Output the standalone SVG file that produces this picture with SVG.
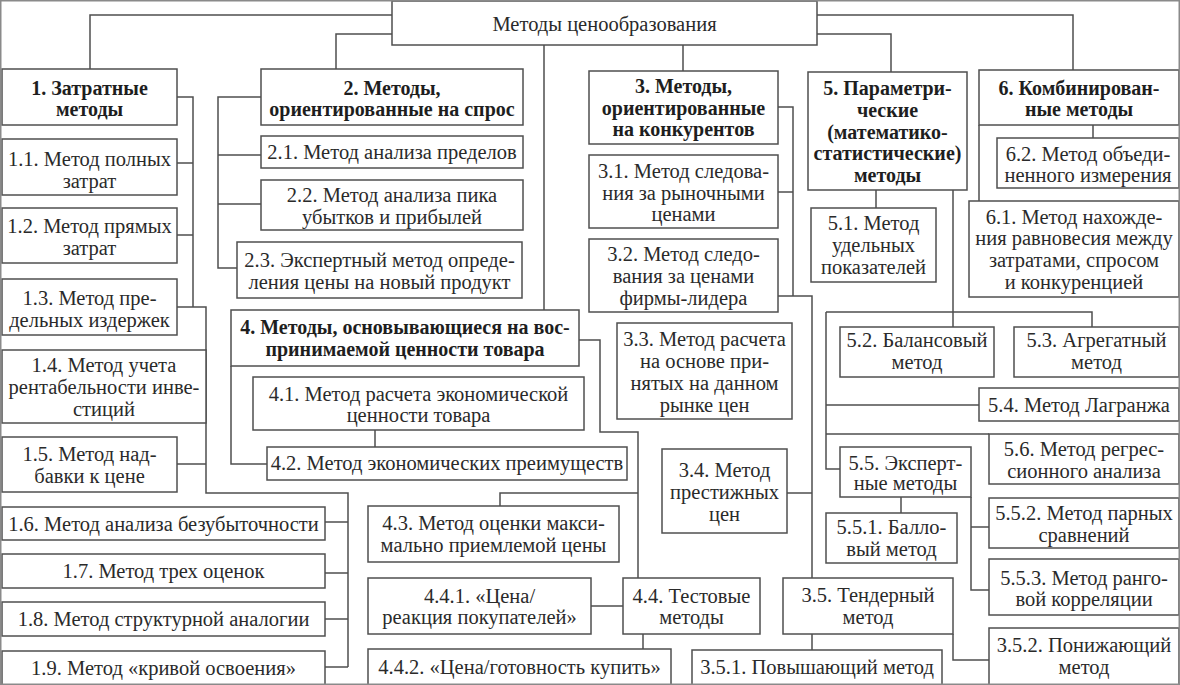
<svg xmlns="http://www.w3.org/2000/svg" width="1180" height="685" viewBox="0 0 1180 685">
<style>
.box{fill:#fff;stroke:#4f4f4f;stroke-width:1.5}
.c{fill:none;stroke:#4f4f4f;stroke-width:1.5}
.t{font-family:'Liberation Serif','Times New Roman',serif;font-size:20.5px;fill:#2a2a2a;text-anchor:middle}
.b{font-weight:bold;font-size:20px;fill:#1e1e1e}
.frame{fill:none;stroke:#8a8a8a;stroke-width:1.5}
</style>
<rect width="1180" height="685" fill="#fff"/>
<g id="connectors">
<path class="c" d="M392,15H90V69M392,34H336V69M544,45V310M683,45V71M817,15H1073V70M817,34H891V72"/>
<path class="c" d="M177,97H193V307M177,163H193M177,235H193M177,307H206V493H348V667M325,522H348M325,573H348M325,619H348M325,667H348M177,464H206"/>
<path class="c" d="M261,97H218V268H237M218,155H261M218,204H261"/>
<path class="c" d="M231,366V464H267M375,430V447M579,340H600V432H638V578M638,493H500V506M591,606H623M643,634V649"/>
<path class="c" d="M778,107H793V296M778,192H793M778,296H812V650M787,493H812M953,634V660H989"/>
<path class="c" d="M876,190V208M953,190V327M826,312H1092V327M826,312V469H840M826,405H979M826,434H989M901,497V513M971,497V590H989M971,527H989"/>
<path class="c" d="M1093,125V138M979,125V201"/>
</g>
<g id="n0"><rect class="box" x="392" y="1" width="425" height="44"/><text class="t" x="604.5" y="31">Методы ценообразования</text></g>
<g id="n1"><rect class="box" x="2" y="69" width="175" height="56"/><text class="t b"><tspan x="89.5" y="94.5">1. Затратные</tspan><tspan x="89.5" y="115.5">методы</tspan></text></g>
<g id="n1_1"><rect class="box" x="2" y="139" width="175" height="56"/><text class="t"><tspan x="89.5" y="166">1.1. Метод полных</tspan><tspan x="89.5" y="188">затрат</tspan></text></g>
<g id="n1_2"><rect class="box" x="2" y="208" width="175" height="55"/><text class="t"><tspan x="89.5" y="233">1.2. Метод прямых</tspan><tspan x="89.5" y="255">затрат</tspan></text></g>
<g id="n1_3"><rect class="box" x="2" y="279" width="175" height="56"/><text class="t"><tspan x="89.5" y="305">1.3. Метод пре-</tspan><tspan x="89.5" y="327">дельных издержек</tspan></text></g>
<g id="n1_4"><rect class="box" x="2" y="350" width="204" height="73"/><text class="t"><tspan x="104" y="372">1.4. Метод учета</tspan><tspan x="104" y="394">рентабельности инве-</tspan><tspan x="104" y="416">стиций</tspan></text></g>
<g id="n1_5"><rect class="box" x="2" y="437" width="175" height="55"/><text class="t"><tspan x="89.5" y="461">1.5. Метод над-</tspan><tspan x="89.5" y="483">бавки к цене</tspan></text></g>
<g id="n1_6"><rect class="box" x="2" y="507" width="323" height="33"/><text class="t" x="163.5" y="531">1.6. Метод анализа безубыточности</text></g>
<g id="n1_7"><rect class="box" x="2" y="554" width="323" height="34"/><text class="t" x="163.5" y="578">1.7. Метод трех оценок</text></g>
<g id="n1_8"><rect class="box" x="2" y="602" width="323" height="34"/><text class="t" x="163.5" y="626">1.8. Метод структурной аналогии</text></g>
<g id="n1_9"><rect class="box" x="2" y="651" width="323" height="34"/><text class="t" x="163.5" y="675">1.9. Метод «кривой освоения»</text></g>
<g id="n2"><rect class="box" x="261" y="69" width="262" height="56"/><text class="t b"><tspan x="392" y="94.5">2. Методы,</tspan><tspan x="392" y="115.5">ориентированные на спрос</tspan></text></g>
<g id="n2_1"><rect class="box" x="261" y="136" width="262" height="32"/><text class="t" x="392" y="159">2.1. Метод анализа пределов</text></g>
<g id="n2_2"><rect class="box" x="261" y="180" width="262" height="50"/><text class="t"><tspan x="392" y="202">2.2. Метод анализа пика</tspan><tspan x="392" y="224">убытков и прибылей</tspan></text></g>
<g id="n2_3"><rect class="box" x="237" y="242" width="285" height="56"/><text class="t"><tspan x="379.5" y="266.5">2.3. Экспертный метод опреде-</tspan><tspan x="379.5" y="288.5">ления цены на новый продукт</tspan></text></g>
<g id="n3"><rect class="box" x="589" y="71" width="189" height="73"/><text class="t b"><tspan x="683.5" y="93">3. Методы,</tspan><tspan x="683.5" y="114.5">ориентированные</tspan><tspan x="683.5" y="136">на конкурентов</tspan></text></g>
<g id="n3_1"><rect class="box" x="589" y="155" width="189" height="73"/><text class="t"><tspan x="683.5" y="178">3.1. Метод следова-</tspan><tspan x="683.5" y="199.5">ния за рыночными</tspan><tspan x="683.5" y="221">ценами</tspan></text></g>
<g id="n3_2"><rect class="box" x="589" y="239" width="189" height="73"/><text class="t"><tspan x="683.5" y="261">3.2. Метод следо-</tspan><tspan x="683.5" y="283">вания за ценами</tspan><tspan x="683.5" y="304.5">фирмы-лидера</tspan></text></g>
<g id="n3_3"><rect class="box" x="617" y="323" width="175" height="96"/><text class="t"><tspan x="704.5" y="346">3.3. Метод расчета</tspan><tspan x="704.5" y="368">на основе при-</tspan><tspan x="704.5" y="390">нятых на данном</tspan><tspan x="704.5" y="412">рынке цен</tspan></text></g>
<g id="n3_4"><rect class="box" x="662" y="449" width="125" height="84"/><text class="t"><tspan x="724.5" y="477">3.4. Метод</tspan><tspan x="724.5" y="499">престижных</tspan><tspan x="724.5" y="521">цен</tspan></text></g>
<g id="n3_5"><rect class="box" x="783" y="578" width="170" height="56"/><text class="t"><tspan x="868" y="602">3.5. Тендерный</tspan><tspan x="868" y="623.5">метод</tspan></text></g>
<g id="n3_5_1"><rect class="box" x="692" y="650" width="250" height="35"/><text class="t" x="817" y="673.5">3.5.1. Повышающий метод</text></g>
<g id="n3_5_2"><rect class="box" x="989" y="628" width="190" height="57"/><text class="t"><tspan x="1084" y="652">3.5.2. Понижающий</tspan><tspan x="1084" y="673.5">метод</tspan></text></g>
<g id="n4"><rect class="box" x="231" y="310" width="348" height="56"/><text class="t b"><tspan x="405" y="334">4. Методы, основывающиеся на вос-</tspan><tspan x="405" y="355.5">принимаемой ценности товара</tspan></text></g>
<g id="n4_1"><rect class="box" x="253" y="377" width="331" height="53"/><text class="t"><tspan x="418.5" y="400.5">4.1. Метод расчета экономической</tspan><tspan x="418.5" y="422">ценности товара</tspan></text></g>
<g id="n4_2"><rect class="box" x="267" y="447" width="360" height="33"/><text class="t" x="447" y="470">4.2. Метод экономических преимуществ</text></g>
<g id="n4_3"><rect class="box" x="368" y="506" width="251" height="56"/><text class="t"><tspan x="493.5" y="530">4.3. Метод оценки макси-</tspan><tspan x="493.5" y="552">мально приемлемой цены</tspan></text></g>
<g id="n4_4"><rect class="box" x="623" y="578" width="137" height="56"/><text class="t"><tspan x="691.5" y="603">4.4. Тестовые</tspan><tspan x="691.5" y="624">методы</tspan></text></g>
<g id="n4_4_1"><rect class="box" x="368" y="578" width="223" height="56"/><text class="t"><tspan x="479.5" y="603">4.4.1. «Цена/</tspan><tspan x="479.5" y="624">реакция покупателей»</tspan></text></g>
<g id="n4_4_2"><rect class="box" x="368" y="649" width="303" height="36"/><text class="t" x="519.5" y="673.5">4.4.2. «Цена/готовность купить»</text></g>
<g id="n5"><rect class="box" x="808" y="72" width="159" height="118"/><text class="t b"><tspan x="887.5" y="95">5. Параметри-</tspan><tspan x="887.5" y="116.5">ческие</tspan><tspan x="887.5" y="138.5">(математико-</tspan><tspan x="887.5" y="160">статистические)</tspan><tspan x="887.5" y="181.5">методы</tspan></text></g>
<g id="n5_1"><rect class="box" x="811" y="208" width="125" height="74"/><text class="t"><tspan x="873.5" y="230">5.1. Метод</tspan><tspan x="873.5" y="252">удельных</tspan><tspan x="873.5" y="274">показателей</tspan></text></g>
<g id="n5_2"><rect class="box" x="840" y="327" width="154" height="50"/><text class="t"><tspan x="917" y="347">5.2. Балансовый</tspan><tspan x="917" y="368.5">метод</tspan></text></g>
<g id="n5_3"><rect class="box" x="1014" y="327" width="165" height="50"/><text class="t"><tspan x="1096.5" y="347">5.3. Агрегатный</tspan><tspan x="1096.5" y="368.5">метод</tspan></text></g>
<g id="n5_4"><rect class="box" x="979" y="388" width="200" height="33"/><text class="t" x="1079" y="412">5.4. Метод Лагранжа</text></g>
<g id="n5_6"><rect class="box" x="989" y="434" width="190" height="50"/><text class="t"><tspan x="1084" y="456">5.6. Метод регрес-</tspan><tspan x="1084" y="477.5">сионного анализа</tspan></text></g>
<g id="n5_5"><rect class="box" x="840" y="447" width="131" height="50"/><text class="t"><tspan x="905.5" y="469.5">5.5. Эксперт-</tspan><tspan x="905.5" y="490">ные методы</tspan></text></g>
<g id="n5_5_1"><rect class="box" x="826" y="513" width="131" height="50"/><text class="t"><tspan x="891.5" y="534">5.5.1. Балло-</tspan><tspan x="891.5" y="556">вый метод</tspan></text></g>
<g id="n5_5_2"><rect class="box" x="989" y="498" width="190" height="50"/><text class="t"><tspan x="1084" y="520">5.5.2. Метод парных</tspan><tspan x="1084" y="542">сравнений</tspan></text></g>
<g id="n5_5_3"><rect class="box" x="989" y="559" width="190" height="56"/><text class="t"><tspan x="1084" y="585">5.5.3. Метод ранго-</tspan><tspan x="1084" y="606">вой корреляции</tspan></text></g>
<g id="n6"><rect class="box" x="979" y="70" width="200" height="55"/><text class="t b"><tspan x="1079" y="94.5">6. Комбинирован-</tspan><tspan x="1079" y="116">ные методы</tspan></text></g>
<g id="n6_2"><rect class="box" x="997" y="138" width="182" height="50"/><text class="t"><tspan x="1088" y="161">6.2. Метод объеди-</tspan><tspan x="1088" y="182">ненного измерения</tspan></text></g>
<g id="n6_1"><rect class="box" x="969" y="201" width="210" height="96"/><text class="t"><tspan x="1074" y="223.5">6.1. Метод нахожде-</tspan><tspan x="1074" y="245">ния равновесия между</tspan><tspan x="1074" y="267">затратами, спросом</tspan><tspan x="1074" y="288.5">и конкуренцией</tspan></text></g>
<rect class="frame" x="0.75" y="0.75" width="1178.5" height="683.5"/>
</svg>
